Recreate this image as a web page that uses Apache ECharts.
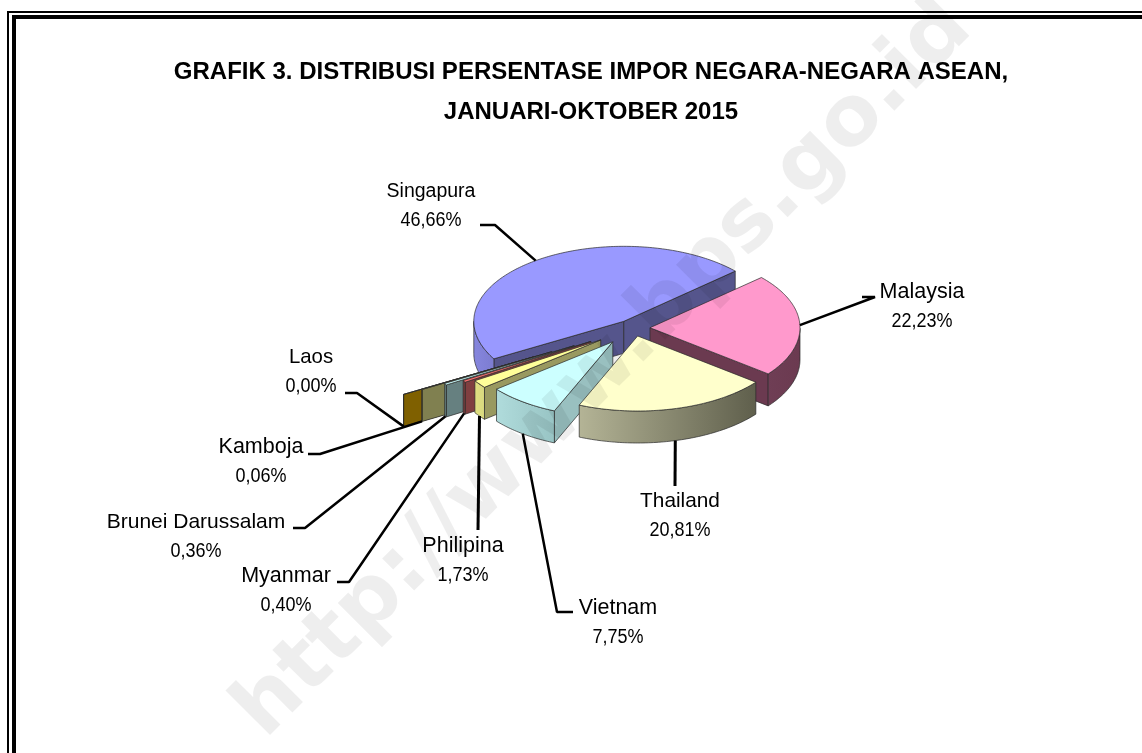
<!DOCTYPE html>
<html>
<head>
<meta charset="utf-8">
<style>html,body{margin:0;padding:0;background:#fff}#c{width:1142px;height:753px}</style>
<script src="https://cdn.jsdelivr.net/npm/echarts@6/dist/echarts.min.js"></script>
</head>
<body>
<div id="c"></div>
<script>
// --- data ---
const categories = ['Singapura','Malaysia','Thailand','Vietnam','Philipina','Myanmar','Brunei Darussalam','Kamboja','Laos'];
const shares = [46.66,22.23,20.81,7.75,1.73,0.40,0.36,0.06,0.00];
const titleLines = ['GRAFIK 3. DISTRIBUSI PERSENTASE IMPOR NEGARA-NEGARA ASEAN,','JANUARI-OKTOBER 2015'];
const watermarkText = 'http://www.bps.go.id';

// --- pie layout ---
const pie = {cx:633.5, cy:328, a:150, b:75, depth:32, startDeg:210};
const explode = [0.11,0.11,0.11,0.23,0.27,0.335,0.46,0.63,0.77];
const paintRank = [0,1,8,7,6,5,4,3,2];
const topColor = ['#9999ff','#ff99cc','#ffffcc','#ccffff','#ffff99','#ff7070','#ccffff','#cccc80','#ffc000'];
const edgeColor = ['#55558c','#6b3a50','#666650','#99c0c0','#999960','#803f40','#668080','#808050','#7f6000'];
const rimColor = [
  ['#8686de','#7c7cd0'],['#6f3e55','#6b3a50'],['#b4b496','#5f5f4c'],['#b0dcdc','#98c4c4'],
  ['#e0e080','#d8d880'],['#803f40','#803f40'],['#668080','#668080'],['#808050','#808050'],['#7f6000','#7f6000']
];
// label centre, elbow of the leader, end of the short tail
const labelPlace = [
  {x:431,y:206,nameSize:19.5,elbow:[495,225],tail:[480,225]},
  {x:922,y:307,nameSize:21.5,elbow:[875,297],tail:[862,297]},
  {x:680,y:516,nameSize:20.8,elbow:[675,486]},
  {x:618,y:623,nameSize:21.5,elbow:[557,612],tail:[573,612]},
  {x:463,y:561,nameSize:21.5,elbow:[478,530]},
  {x:286,y:591,nameSize:21.5,elbow:[349,582],tail:[337,582]},
  {x:196,y:537,nameSize:21,elbow:[305,528],tail:[293,528]},
  {x:261,y:462,nameSize:21.5,elbow:[320,454],tail:[308,454]},
  {x:311,y:372,nameSize:20.4,elbow:[357,393],tail:[345,393]}
];

const rad = d => d*Math.PI/180;
const total = shares.reduce((s,v)=>s+v,0);
const sweeps = shares.map(v=>v/total*360);
const startAngles = sweeps.map((_,i)=>pie.startDeg - sweeps.slice(0,i).reduce((s,v)=>s+v,0));

function sliceGeom(i){
  const a0 = startAngles[i], a1 = a0 - sweeps[i], mid = (a0+a1)/2, e = explode[i];
  const ax = pie.cx + e*pie.a*Math.cos(rad(mid));
  const ay = pie.cy - e*pie.b*Math.sin(rad(mid));
  const pt = d => [ax + pie.a*Math.cos(rad(d)), ay - pie.b*Math.sin(rad(d))];
  return {a0,a1,mid,ax,ay,pt};
}
const down = (p,h) => [p[0],p[1]+h];
const faceStyle = fill => ({fill, stroke:'#2a2a2a', lineWidth:0.7});

function renderSlice(params){
  const i = params.dataIndex, g = sliceGeom(i), rank = paintRank[i]*10, children = [];
  const poly = (points, fill, z) => children.push({type:'polygon', shape:{points}, style:faceStyle(fill), z2:rank+z});
  const radial = d => {
    const p = g.pt(d), q = [g.ax,g.ay];
    poly([q,p,down(p,pie.depth),down(q,pie.depth)], edgeColor[i], 0);
  };
  if (Math.sin(rad(g.a0+90)) < 0) radial(g.a0);
  if (Math.sin(rad(g.a1-90)) < 0) radial(g.a1);
  // outer rim: only the part that faces the viewer
  const rim = [];
  const steps = Math.max(2, Math.ceil(g.a0-g.a1));
  for (let k=0;k<=steps;k++){
    const d = g.a0 - (g.a0-g.a1)*k/steps;
    if (Math.sin(rad(d)) <= 1e-6) rim.push(g.pt(d));
  }
  if (rim.length > 1) {
    const lower = rim.map(p=>down(p,pie.depth)).reverse();
    poly(rim.concat(lower), new echarts.graphic.LinearGradient(0,0,1,0,[
      {offset:0,color:rimColor[i][0]},{offset:1,color:rimColor[i][1]}
    ]), 1);
  }
  const top = [[g.ax,g.ay]];
  for (let k=0;k<=steps;k++) top.push(g.pt(g.a0-(g.a0-g.a1)*k/steps));
  poly(top, topColor[i], 2);

  // leader + label
  const place = labelPlace[i];
  const anchor = g.pt(g.mid);
  const start = Math.sin(rad(g.mid)) < -0.3 ? down(anchor,pie.depth) : anchor;
  const path = [start, place.elbow];
  if (place.tail) path.push(place.tail);
  children.push({type:'polyline', shape:{points:path},
    style:{stroke:'#000', lineWidth: place.tail ? 2.5 : 3, fill:null, lineJoin:'bevel'}, z2:200});
  children.push({type:'text', x:place.x, y:place.y-14.5, z2:210, style:{
    text: categories[i], fontFamily:'Liberation Sans', fontSize:place.nameSize,
    align:'center', verticalAlign:'middle', fill:'#000'
  }});
  children.push({type:'text', x:place.x, y:place.y+14.5, scaleY:1.15, z2:210, style:{
    text: shares[i].toFixed(2).replace('.',',') + '%', fontFamily:'Liberation Sans', fontSize:18,
    align:'center', verticalAlign:'middle', fill:'#000'
  }});
  return {type:'group', children};
}

const chart = echarts.init(document.getElementById('c'), null, {renderer:'canvas'});
const frame = (x,y,w) => ({type:'polyline', silent:true, z:50,
  shape:{points:[[x,753],[x,y],[1142,y]]}, style:{stroke:'#000', lineWidth:w, fill:null}});
chart.setOption({
  animation:false,
  backgroundColor:'#fff',
  title:{
    text:titleLines.join('\n'), left:586, top:47, textAlign:'center',
    textStyle:{fontFamily:'Liberation Sans', fontWeight:'bold', fontSize:24, lineHeight:40, color:'#000'}
  },
  graphic:[
    frame(8,12,2), frame(14,17,4),
    {type:'text', x:279, y:754, rotation:Math.PI/4, scaleX:1.02, z:100, silent:true, style:{
      text:watermarkText, fontFamily:'DejaVu Sans', fontWeight:'bold', fontSize:83,
      align:'left', verticalAlign:'bottom', fill:'rgba(0,0,0,0.065)'
    }}
  ],
  series:[{
    type:'custom', coordinateSystem:'none', silent:true,
    data:shares.map((v,i)=>({name:categories[i], value:[i,v]})),
    renderItem:renderSlice
  }]
});
</script>
</body>
</html>
